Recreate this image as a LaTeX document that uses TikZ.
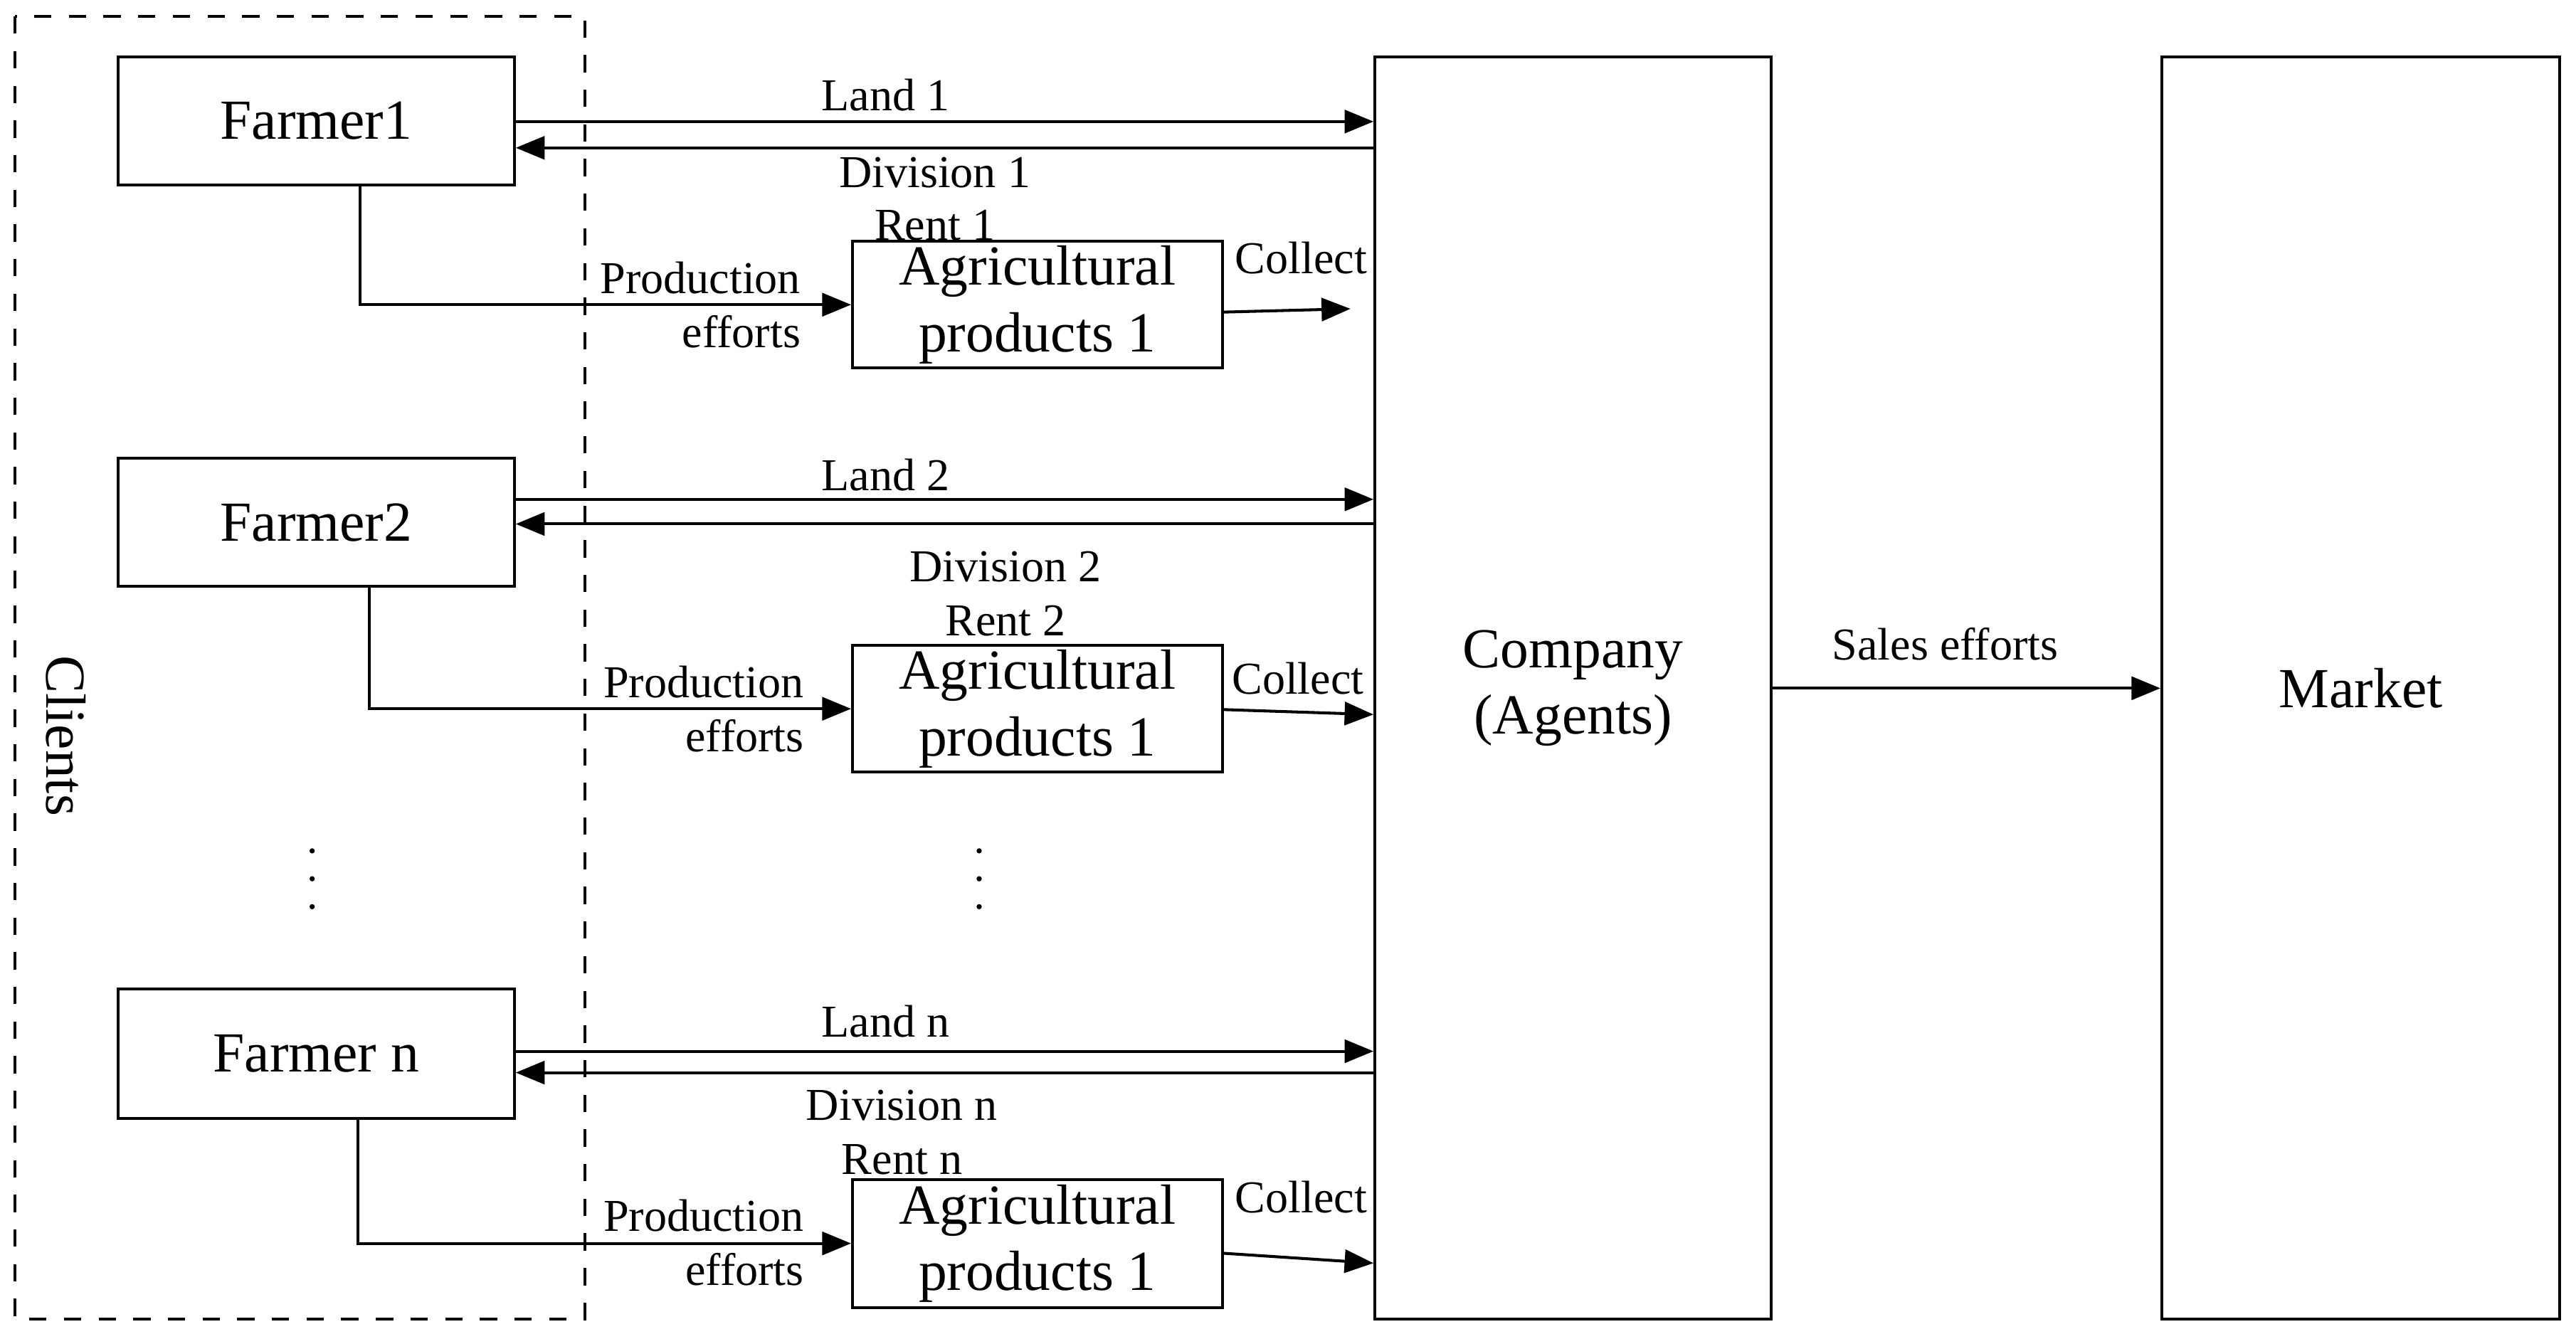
\documentclass[tikz,border=0pt]{standalone}
\usepackage{fontspec}
\setmainfont{Liberation Serif}
\usetikzlibrary{arrows.meta,calc}
\begin{document}
\begin{tikzpicture}[x=0.01cm,y=-0.01cm,
  box/.style={draw,line width=0.5pt,inner sep=0pt,font=\fontsize{9.8}{11.5}\selectfont,align=center},
  lab/.style={font=\fontsize{7.9}{9.5}\selectfont,inner sep=0pt},
  arr/.style={line width=0.5pt,-{Triangle[length=5pt,width=4pt]}}]
\useasboundingbox (0,0) rectangle (1568,815);
\draw[dashed,line width=0.5pt] (9,10) rectangle (356,803);
\node[rotate=-90,font=\fontsize{9.8}{12}\selectfont] (cl) at (40,448) {Clients};
\node[box,minimum width=2.41cm,minimum height=0.78cm] (f1) at (192.5,73.5) {Farmer1};
\node[box,minimum width=2.41cm,minimum height=0.78cm] (f2) at (192.5,318) {Farmer2};
\node[box,minimum width=2.41cm,minimum height=0.79cm] (fn) at (192.5,641.5) {Farmer n};
\node[box,minimum width=2.41cm,minimum height=7.68cm] (co) at (957.5,419) {Company\\(Agents)};
\node[box,minimum width=2.42cm,minimum height=7.68cm] (mk) at (1437,419) {Market};
\node[box,minimum width=2.25cm,minimum height=0.77cm] (a1) at (631.5,185.5) {Agricultural\\products 1};
\node[box,minimum width=2.25cm,minimum height=0.77cm] (a2) at (631.5,431.5) {Agricultural\\products 1};
\node[box,minimum width=2.25cm,minimum height=0.78cm] (a3) at (631.5,757) {Agricultural\\products 1};
% farmer 1
\draw[arr] (f1.east |- {(0,74)}) -- (co.west |- {(0,74)});
\draw[arr] (co.west |- {(0,90)}) -- (f1.east |- {(0,90)});
\node[lab] (l1) at (539,58) {Land 1};
\node[lab] (d1) at (569,105) {Division 1};
\node[lab] (r1) at (569,137) {Rent 1};
\draw[arr] (f1.south -| {(219,0)}) |- (a1.west);
\node[lab,anchor=east] (p1) at (488,169) {Production};
\node[lab,anchor=east] (e1) at (488,202) {efforts};
\coordinate (c1) at (822,188);
\draw[arr] (a1.east |- {(0,190)}) -- (c1);
\node[lab] (k1) at (792,157) {Collect};
% farmer 2
\draw[arr] (f2.east |- {(0,304)}) -- (co.west |- {(0,304)});
\draw[arr] (co.west |- {(0,319)}) -- (f2.east |- {(0,319)});
\node[lab] (l2) at (539,289) {Land 2};
\node[lab] (d2) at (612,345) {Division 2};
\node[lab] (r2) at (612,378) {Rent 2};
\draw[arr] (f2.south -| {(225,0)}) |- (a2.west);
\node[lab,anchor=east] (p2) at (490,415) {Production};
\node[lab,anchor=east] (e2) at (490,448) {efforts};
\draw[arr] (a2.east |- {(0,432)}) -- (co.west |- {(0,435)});
\node[lab] (k2) at (790,413) {Collect};
% farmer n
\draw[arr] (fn.east |- {(0,640)}) -- (co.west |- {(0,640)});
\draw[arr] (co.west |- {(0,653)}) -- (fn.east |- {(0,653)});
\node[lab] (ln) at (539,622) {Land n};
\node[lab] (dn) at (549,673) {Division n};
\node[lab] (rn) at (549,706) {Rent n};
\draw[arr] (fn.south -| {(218,0)}) |- (a3.west);
\node[lab,anchor=east] (pn) at (490,740) {Production};
\node[lab,anchor=east] (en) at (490,773) {efforts};
\draw[arr] (a3.east |- {(0,763)}) -- (co.west |- {(0,769)});
\node[lab] (kn) at (792,729) {Collect};
% dots
\foreach \x in {190,596}{
  \fill (\x,518) circle (1.6);
  \fill (\x,535) circle (1.6);
  \fill (\x,552) circle (1.6);}
% sales
\draw[arr] (co.east |- {(0,419)}) -- (mk.west |- {(0,419)});
\node[lab] (se) at (1184,392) {Sales efforts};
\end{tikzpicture}
\end{document}
